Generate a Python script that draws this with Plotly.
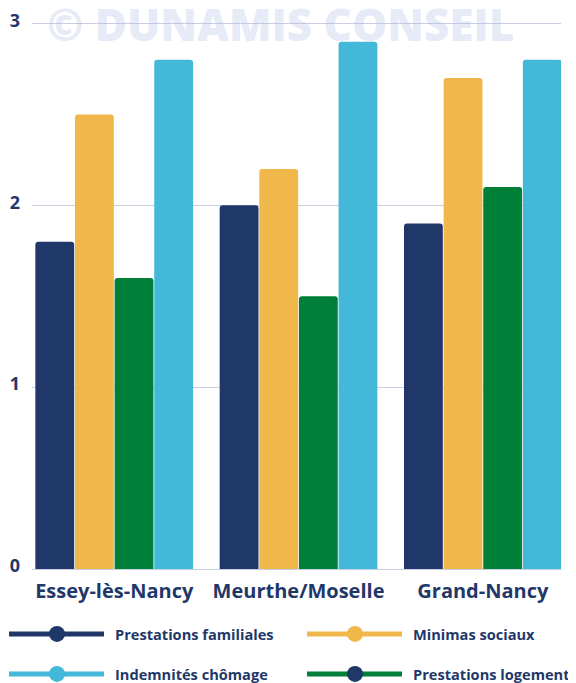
import plotly.graph_objects as go

categories = ["Essey-lès-Nancy", "Meurthe/Moselle", "Grand-Nancy"]
series_names = ["Prestations familiales", "Minimas sociaux", "Prestations logement", "Indemnités chômage"]
prest_familiales = [1.8, 2.0, 1.9]
minimas_sociaux = [2.5, 2.2, 2.7]
prest_logement = [1.6, 1.5, 2.1]
indemnites_chomage = [2.8, 2.9, 2.8]
y_ticks = [0, 1, 2, 3]

NAVY = "#1F3869"
YELLOW = "#F0B74A"
GREEN = "#007F39"
LBLUE = "#43B8D8"
FONT = "Open Sans"

values = [prest_familiales, minimas_sociaux, prest_logement, indemnites_chomage]
colors = [NAVY, YELLOW, GREEN, LBLUE]

fig = go.Figure()
for name, vals, col in zip(series_names, values, colors):
    fig.add_trace(go.Bar(x=categories, y=vals, name=name, marker=dict(color=col, line=dict(width=0)),
                         showlegend=False))

OFF = 8  # page offset (body margin)
FW, FH = 576 - OFF, 683 - OFF
YMAX = 3.03
UNIT = 182.0
# plot area in page pixels
L, R, B = 32, 561, 569
T = B - YMAX * UNIT
W, H = R - L, B - T

def px(x):
    return (x - L) / W

def py(y):
    return (B - y) / H

shapes = []
annotations = []
legend_items = [
    ("Prestations familiales", NAVY, NAVY, 9, 634),
    ("Minimas sociaux", YELLOW, YELLOW, 307, 634),
    ("Indemnités chômage", LBLUE, LBLUE, 9, 674),
    ("Prestations logement", GREEN, NAVY, 307, 674),
]
for text, lc, mc, x0, yc in legend_items:
    shapes.append(dict(type="line", xref="paper", yref="paper", x0=px(x0), x1=px(x0 + 95),
                       y0=py(yc), y1=py(yc), line=dict(color=lc, width=5)))
    cx = x0 + 48
    r = 8
    shapes.append(dict(type="circle", xref="paper", yref="paper", x0=px(cx - r), x1=px(cx + r),
                       y0=py(yc + r), y1=py(yc - r), fillcolor=mc, line=dict(width=0)))
    annotations.append(dict(text=text, xref="paper", yref="paper", x=px(x0 + 104), y=py(yc),
                            xanchor="left", yanchor="middle", showarrow=False,
                            font=dict(family=FONT, size=14.6, color=NAVY, weight=700)))

annotations.append(dict(text="© DUNAMIS CONSEIL", xref="paper", yref="paper", x=px(280), y=py(24),
                        xanchor="center", yanchor="middle", showarrow=False,
                        font=dict(family=FONT, size=44, color="rgba(170,185,230,0.3)", weight=800)))

fig.update_layout(
    width=FW, height=FH,
    margin=dict(l=L - OFF, r=576 - R, t=T - OFF, b=683 - B, pad=0),
    plot_bgcolor="white", paper_bgcolor="white",
    barmode="group", bargap=0.14, bargroupgap=0.02,
    barcornerradius=3,
    shapes=shapes, annotations=annotations,
    xaxis=dict(type="category", range=[-0.446, 2.424], showgrid=False, showline=False, automargin=False,
               ticks="", tickfont=dict(family=FONT, size=20, color=NAVY, weight=700), ticklabelstandoff=8),
    yaxis=dict(range=[0, YMAX], tickvals=y_ticks, showgrid=True, gridcolor="#C9CEE0", gridwidth=1,
               automargin=False, ticklabeloverflow="allow",
               zeroline=True, zerolinecolor="#C9CEE0", zerolinewidth=1, showline=False, ticks="",
               tickfont=dict(family=FONT, size=18, color=NAVY, weight=700), ticklabelstandoff=11,
               ticklabelshift=-3),
    showlegend=False,
)

fig.write_html("out.html")
